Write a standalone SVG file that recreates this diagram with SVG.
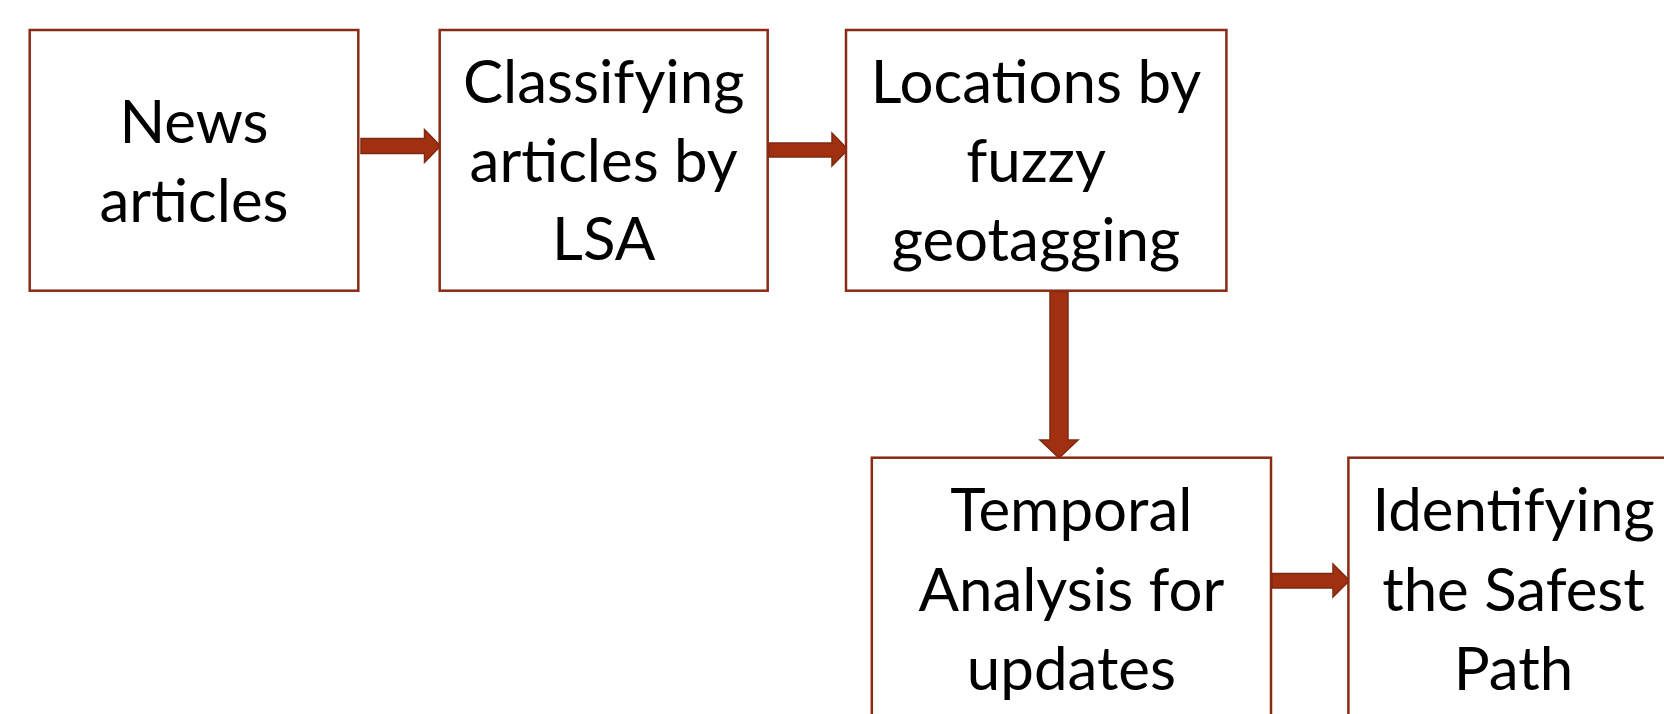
<svg xmlns="http://www.w3.org/2000/svg" width="1664" height="714" viewBox="0 0 1664 714">
<style>
.box{fill:#fff;stroke:#8A2A14;stroke-width:2.5}
.lbl{font-family:Lato,"Liberation Sans",sans-serif;font-size:60px;fill:#000;text-anchor:middle}
.arr{fill:#A0300F;stroke:#7E2A12;stroke-width:1.5;stroke-linejoin:miter}
</style>
<rect width="1664" height="714" fill="#fff"/>
<g id="connectors">
<path class="arr" d="M361,138.5 H424.5 V129.5 L440.5,146 L424.5,162.5 V153.5 H361 Z"/>
<path class="arr" d="M769,143 H832 V133 L848,149.5 L832,166 V157 H769 Z"/>
<path class="arr" d="M1050,291.5 V440 H1040 L1059,458 L1078,440 H1068 V291.5 Z"/>
<path class="arr" d="M1272,573.5 H1333 V564 L1349.5,580.5 L1333,597 V588 H1272 Z"/>
</g>
<g id="n1">
<rect class="box" x="29.7" y="30" width="328.6" height="260.7"/>
<text class="lbl" x="194" y="143">News</text>
<text class="lbl" x="194" y="221.5">articles</text>
</g>
<g id="n2">
<rect class="box" x="439.7" y="30" width="328" height="260.7"/>
<text class="lbl" x="603.7" y="103">Classifying</text>
<text class="lbl" x="603.7" y="181.5">articles by</text>
<text class="lbl" x="603.7" y="260">LSA</text>
</g>
<g id="n3">
<rect class="box" x="846" y="30" width="380.4" height="260.7"/>
<text class="lbl" x="1036" y="103">Locations by</text>
<text class="lbl" x="1036" y="182">fuzzy</text>
<text class="lbl" x="1036" y="261">geotagging</text>
</g>
<g id="n4">
<rect class="box" x="871.8" y="457.7" width="399.2" height="320"/>
<text class="lbl" x="1071.4" y="530.5">Temporal</text>
<text class="lbl" x="1071.4" y="610.5">Analysis for</text>
<text class="lbl" x="1071.4" y="690">updates</text>
</g>
<g id="n5">
<rect class="box" x="1348.4" y="457.7" width="330" height="320"/>
<text class="lbl" x="1513.5" y="530.5">Identifying</text>
<text class="lbl" x="1513.5" y="610.5">the Safest</text>
<text class="lbl" x="1513.5" y="690">Path</text>
</g>
</svg>
